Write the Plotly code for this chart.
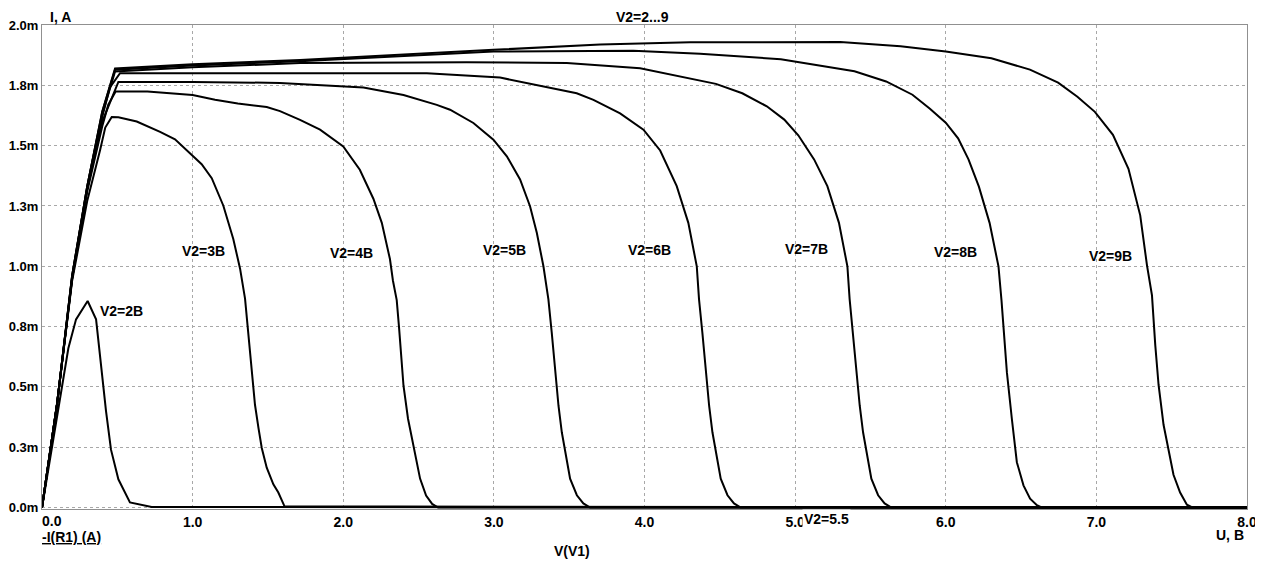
import plotly.graph_objects as go

# ---- data (current in mA, voltage in V) ----
v2_2_v = [0.0, 0.175, 0.226, 0.303, 0.359, 0.425, 0.458, 0.507, 0.584, 0.728, 8.0]
v2_2_i = [0.0, 0.66, 0.78, 0.856, 0.78, 0.40, 0.24, 0.117, 0.021, 0.002, 0.0]

v2_3_v = [0.0, 0.1, 0.2, 0.3, 0.385, 0.42, 0.463, 0.507, 0.629, 0.784, 0.883, 0.994, 1.060, 1.127,
          1.204, 1.270, 1.315, 1.348, 1.370, 1.392, 1.414, 1.437, 1.459, 1.492, 1.536, 1.569, 1.61, 8.0]
v2_3_i = [0.0, 0.43, 0.94, 1.27, 1.48, 1.575, 1.619, 1.618, 1.60, 1.557, 1.526, 1.464, 1.423, 1.365,
          1.251, 1.113, 0.990, 0.866, 0.729, 0.564, 0.426, 0.330, 0.247, 0.165, 0.096, 0.062, 0.005, 0.0]

v2_4_v = [0.0, 0.1, 0.2, 0.3, 0.4, 0.44, 0.489, 0.7, 1.0, 1.149, 1.3, 1.492, 1.58, 1.713, 1.846, 2.0,
          2.11, 2.2, 2.256, 2.31, 2.33, 2.355, 2.37, 2.385, 2.40, 2.43, 2.47, 2.51, 2.55, 2.59, 2.63, 8.0]
v2_4_i = [0.0, 0.43, 0.95, 1.31, 1.58, 1.67, 1.724, 1.724, 1.71, 1.69, 1.675, 1.66, 1.643, 1.607, 1.566, 1.497,
          1.40, 1.28, 1.18, 1.03, 0.94, 0.86, 0.75, 0.64, 0.505, 0.368, 0.244, 0.12, 0.05, 0.015, 0.0, 0.0]

v2_5_v = [0.0, 0.1, 0.2, 0.3, 0.4, 0.507, 1.0, 1.58, 2.134, 2.4, 2.621, 2.709, 2.864, 2.997, 3.086, 3.174,
          3.24, 3.285, 3.329, 3.362, 3.384, 3.406, 3.429, 3.451, 3.473, 3.506, 3.551, 3.594, 3.639, 8.0]
v2_5_i = [0.0, 0.43, 0.95, 1.32, 1.60, 1.764, 1.764, 1.76, 1.741, 1.71, 1.669, 1.649, 1.594, 1.525, 1.456, 1.36,
          1.249, 1.139, 1.0, 0.863, 0.726, 0.56, 0.422, 0.312, 0.23, 0.12, 0.051, 0.017, 0.0, 0.0]

v2_6_v = [0.0, 0.1, 0.2, 0.3, 0.4, 0.45, 0.518, 1.0, 1.713, 2.555, 3.041, 3.395, 3.55, 3.661, 3.838, 3.993,
          4.104, 4.214, 4.291, 4.347, 4.362, 4.384, 4.406, 4.429, 4.451, 4.473, 4.506, 4.551, 4.594, 4.639, 8.0]
v2_6_i = [0.0, 0.43, 0.95, 1.32, 1.62, 1.74, 1.80, 1.80, 1.80, 1.80, 1.782, 1.738, 1.717, 1.69, 1.634, 1.566,
          1.48, 1.332, 1.18, 1.0, 0.863, 0.726, 0.56, 0.422, 0.312, 0.23, 0.12, 0.051, 0.017, 0.0, 0.0]

v2_7_v = [0.0, 0.1, 0.2, 0.3, 0.4, 0.485, 1.0, 1.713, 2.82, 3.484, 3.971, 4.369, 4.474, 4.649, 4.812, 4.928,
          5.021, 5.126, 5.214, 5.291, 5.347, 5.362, 5.384, 5.406, 5.429, 5.451, 5.473, 5.506, 5.551, 5.594, 5.639, 8.0]
v2_7_i = [0.0, 0.43, 0.96, 1.33, 1.63, 1.807, 1.825, 1.842, 1.846, 1.842, 1.821, 1.771, 1.756, 1.717, 1.663, 1.608,
          1.543, 1.443, 1.332, 1.18, 1.0, 0.863, 0.726, 0.56, 0.422, 0.312, 0.23, 0.12, 0.051, 0.017, 0.0, 0.0]

v2_8_v = [0.0, 0.1, 0.2, 0.3, 0.4, 0.485, 1.0, 1.713, 2.997, 3.926, 4.369, 4.905, 5.394, 5.604, 5.779, 5.895,
          6.0, 6.082, 6.151, 6.22, 6.291, 6.35, 6.37, 6.39, 6.406, 6.439, 6.472, 6.516, 6.56, 6.605, 6.64, 8.0]
v2_8_i = [0.0, 0.43, 0.96, 1.33, 1.64, 1.815, 1.832, 1.85, 1.89, 1.893, 1.881, 1.858, 1.808, 1.766, 1.711, 1.653,
          1.595, 1.53, 1.443, 1.33, 1.18, 1.0, 0.86, 0.70, 0.56, 0.367, 0.188, 0.092, 0.037, 0.01, 0.0, 0.0]

v2_9_v = [0.0, 0.1, 0.2, 0.3, 0.4, 0.485, 1.0, 1.713, 2.997, 3.705, 4.303, 4.79, 5.3, 5.7, 6.0, 6.303, 6.559,
          6.746, 6.874, 6.99, 7.04, 7.11, 7.213, 7.291, 7.336, 7.369, 7.391, 7.413, 7.446, 7.479, 7.512, 7.556,
          7.601, 7.64, 8.0]
v2_9_i = [0.0, 0.43, 0.96, 1.33, 1.64, 1.82, 1.837, 1.855, 1.897, 1.919, 1.928, 1.93, 1.93, 1.912, 1.89, 1.862, 1.815,
          1.761, 1.703, 1.64, 1.60, 1.545, 1.404, 1.211, 1.004, 0.88, 0.673, 0.508, 0.343, 0.233, 0.136, 0.062,
          0.012, 0.0, 0.0]

curve_names = ["V2=2B", "V2=3B", "V2=4B", "V2=5B", "V2=6B", "V2=7B", "V2=8B", "V2=9B"]
curve_v = [v2_2_v, v2_3_v, v2_4_v, v2_5_v, v2_6_v, v2_7_v, v2_8_v, v2_9_v]
curve_i = [v2_2_i, v2_3_i, v2_4_i, v2_5_i, v2_6_i, v2_7_i, v2_8_i, v2_9_i]

label_v = [0.531, 1.071, 2.056, 3.071, 4.035, 5.073, 6.066, 7.095]
label_i = [0.815, 1.063, 1.056, 1.066, 1.066, 1.07, 1.058, 1.044]

x_tickvals = [1, 2, 3, 4, 5, 6, 7, 8]
x_ticktext = ["1.0", "2.0", "3.0", "4.0", "5.0", "6.0", "7.0", "8.0"]
y_tickvals = [0, 0.25, 0.5, 0.75, 1.0, 1.25, 1.5, 1.75, 2.0]
y_ticktext = ["0.0m", "0.3m", "0.5m", "0.8m", "1.0m", "1.3m", "1.5m", "1.8m", "2.0m"]

FONT = "Liberation Sans, Arial, sans-serif"
FS = 14

fig = go.Figure()
for v, i, n in zip(curve_v, curve_i, curve_names):
    fig.add_trace(go.Scatter(x=v, y=i, mode="lines", name=n,
                             line=dict(color="black", width=2), cliponaxis=False,
                             showlegend=False, hoverinfo="skip"))

ann = []
for n, lv, li in zip(curve_names, label_v, label_i):
    ann.append(dict(x=lv, y=li, xref="x", yref="y", text="<b>" + n + "</b>",
                    showarrow=False, font=dict(family=FONT, size=FS, color="black")))

def pa(text, x, y, xanchor="center", yanchor="middle", **kw):
    d = dict(x=x, y=y, xref="paper", yref="paper", text="<b>" + text + "</b>", showarrow=False,
             xanchor=xanchor, yanchor=yanchor, font=dict(family=FONT, size=FS, color="black"))
    d.update(kw)
    return d

ann += [
    pa("I, A", 0.005, 1.0165, xanchor="left"),
    pa("V2=2...9", 0.4745, 1.0171, xanchor="left"),
    pa("U, B", 0.9995, -0.0537, xanchor="right"),
    pa("<u>-I(R1) (A)</u>", -0.002, -0.0579, xanchor="left"),
    pa("V(V1)", 0.4398, -0.0868),
    pa("0.0", -0.002, -0.0238, xanchor="left"),
    pa("V2=5.5", 0.6307, -0.001, xanchor="left", yanchor="top", bgcolor="white", borderpad=1),
]

# page body has an 8px margin: size/margins chosen so the plot area lands at x 42..1247, y 25..509
fig.update_layout(
    width=1255, height=551,
    margin=dict(l=34, r=16, t=17, b=50),
    paper_bgcolor="white", plot_bgcolor="white",
    font=dict(family=FONT, size=FS, color="black"),
    annotations=ann,
    xaxis=dict(range=[0, 8], tickvals=x_tickvals, ticktext=x_ticktext, automargin=False,
               tickfont=dict(family=FONT, size=FS, color="black", weight="bold"),
               showgrid=True, gridcolor="#a8a8a8", griddash="dot", gridwidth=1,
               showline=True, linecolor="#909090", linewidth=1, mirror=True,
               ticks="", zeroline=False),
    yaxis=dict(range=[-0.006, 2.0], tickvals=y_tickvals, ticktext=y_ticktext, automargin=False,
               tickfont=dict(family=FONT, size=13, color="black", weight="bold"),
               showgrid=True, gridcolor="#a8a8a8", griddash="dot", gridwidth=1,
               showline=True, linecolor="#909090", linewidth=1, mirror=True,
               ticks="", zeroline=False, ticklabelstandoff=0),
)

fig.write_html("out.html")
